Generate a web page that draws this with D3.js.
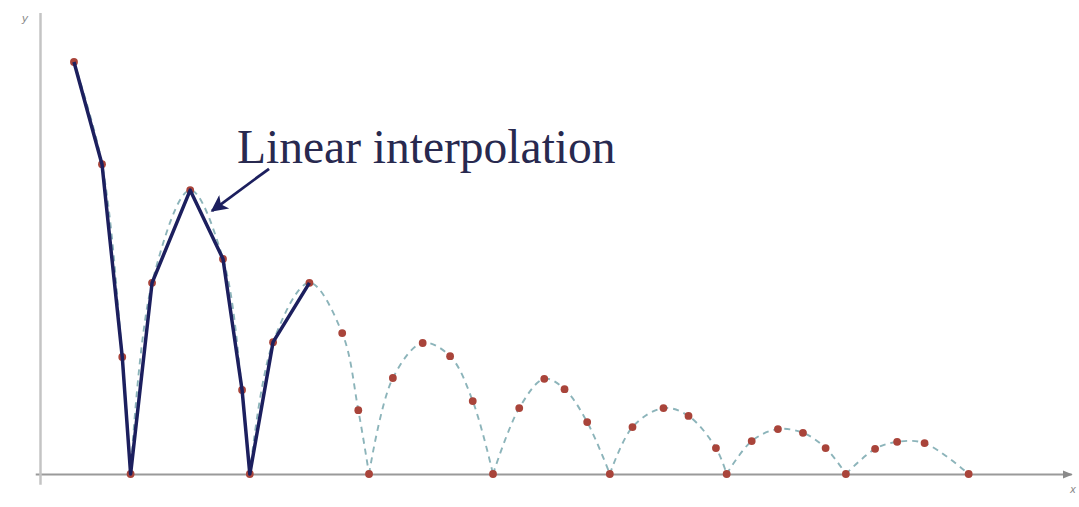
<!DOCTYPE html>
<html>
<head>
<meta charset="utf-8">
<script src="https://cdn.jsdelivr.net/npm/d3@7"></script>
<style>
  html, body { margin: 0; padding: 0; background: #fff; }
  svg { display: block; }
</style>
</head>
<body>
<svg id="chart" width="1079" height="507"></svg>
<script>
// Samples of a decaying |sin|-like signal (x in periods, y normalised to first sample)
const sampleX = [0.525, 0.76, 0.93, 1.0, 1.18, 1.50, 1.775, 1.935, 2.0, 2.195, 2.5, 2.775, 2.91, 3.0,
                 3.2, 3.45, 3.68, 3.87, 4.04, 4.26, 4.47, 4.64, 4.83, 5.02, 5.21, 5.47, 5.68, 5.91, 6.0,
                 6.21, 6.43, 6.64, 6.83, 7.0, 7.245, 7.43, 7.66, 8.03];
const sampleY = [1.0, 0.752, 0.284, 0, 0.464, 0.689, 0.522, 0.204, 0, 0.320, 0.464, 0.342, 0.155, 0,
                 0.233, 0.318, 0.286, 0.177, 0, 0.160, 0.231, 0.206, 0.126, 0, 0.114, 0.160, 0.141, 0.063, 0,
                 0.080, 0.109, 0.100, 0.063, 0, 0.061, 0.078, 0.075, 0];
// Number of leading samples joined by straight segments
const interpolatedCount = 11;
const annotationText = "Linear interpolation";
const axisLabels = ["x", "y"];

const svg = d3.select("#chart");
const W = 1079, H = 507;

const x = d3.scaleLinear().domain([0.24, 8.88]).range([40, 1070]);
const y = d3.scaleLinear().domain([0, 1]).range([474, 62]);

const points = sampleX.map((v, i) => ({ x: v, y: sampleY[i] }));

// Markers
const defs = svg.append("defs");
defs.append("marker")
  .attr("id", "axisArrow").attr("viewBox", "0 0 10 10")
  .attr("refX", 9).attr("refY", 5)
  .attr("markerWidth", 5).attr("markerHeight", 5)
  .attr("markerUnits", "strokeWidth").attr("orient", "auto")
  .append("path").attr("d", "M0,1 L10,5 L0,9 Z").attr("fill", "#8a8a8a");
defs.append("marker")
  .attr("id", "noteArrow").attr("viewBox", "0 0 10 10")
  .attr("refX", 9).attr("refY", 5)
  .attr("markerWidth", 7).attr("markerHeight", 6)
  .attr("markerUnits", "strokeWidth").attr("orient", "auto")
  .append("path").attr("d", "M0,0 L10,5 L0,10 L2.5,5 Z").attr("fill", "#1c1f5e");

// Axes
const xAxisScale = d3.scaleLinear().domain([0.2, 8.89]).range([x(0.2), x(8.89)]);
const gx = svg.append("g")
  .attr("transform", `translate(0,${y(0)})`)
  .call(d3.axisBottom(xAxisScale).tickValues([]).tickSizeOuter(0));
gx.select(".domain").attr("stroke", "#9a9a9a").attr("stroke-width", 2)
  .attr("marker-end", "url(#axisArrow)");

const yAxisScale = d3.scaleLinear().domain([-0.025, 1.12]).range([y(-0.025), y(1.12)]);
const gy = svg.append("g")
  .attr("transform", `translate(${x(0.24)},0)`)
  .call(d3.axisLeft(yAxisScale).tickValues([]).tickSizeOuter(0));
gy.select(".domain").attr("stroke", "#c4c4c4").attr("stroke-width", 2.5);

svg.append("text").attr("x", W - 6).attr("y", H - 14)
  .attr("font-family", "DejaVu Sans").attr("font-size", 10).attr("fill", "#888")
  .attr("font-style", "italic").attr("text-anchor", "middle").text(axisLabels[0]);
svg.append("text").attr("x", 25).attr("y", 22)
  .attr("font-family", "DejaVu Sans").attr("font-size", 11).attr("fill", "#888")
  .attr("font-style", "italic").attr("text-anchor", "middle").text(axisLabels[1]);

// Underlying smooth signal, drawn arch by arch (cusps at the zeros)
const arches = [];
let current = [];
points.forEach((p, i) => {
  current.push(p);
  if (p.y === 0 && current.length > 1) {
    arches.push(current);
    current = [p];
  }
});
if (current.length > 1) arches.push(current);

const smooth = d3.line().x(d => x(d.x)).y(d => y(d.y)).curve(d3.curveCatmullRom.alpha(0.5));
svg.append("g").selectAll("path").data(arches).join("path")
  .attr("d", smooth)
  .attr("fill", "none")
  .attr("stroke", "#8cb4ba")
  .attr("stroke-width", 1.9)
  .attr("stroke-dasharray", "6,5");

// Sample dots
svg.append("g").selectAll("circle").data(points).join("circle")
  .attr("cx", d => x(d.x)).attr("cy", d => y(d.y)).attr("r", 3.9)
  .attr("fill", "#a9443a");

// Linear interpolation through the first samples
const linear = d3.line().x(d => x(d.x)).y(d => y(d.y));
svg.append("path")
  .datum(points.slice(0, interpolatedCount))
  .attr("d", linear)
  .attr("fill", "none")
  .attr("stroke", "#1c1f5e")
  .attr("stroke-width", 3.5)
  .attr("stroke-linejoin", "round");

// Annotation pointing at the segment after the peak
const a = points[5], b = points[6];
const t = 0.3;
const tipX = x(a.x + (b.x - a.x) * t) + 12;
const tipY = y(a.y + (b.y - a.y) * t);
svg.append("line")
  .attr("x1", tipX + 57).attr("y1", tipY - 42)
  .attr("x2", tipX).attr("y2", tipY)
  .attr("stroke", "#1c1f5e").attr("stroke-width", 2.8)
  .attr("marker-end", "url(#noteArrow)");
svg.append("text")
  .attr("x", 237).attr("y", 163)
  .attr("font-family", "Liberation Serif, Times New Roman, serif")
  .attr("font-size", 47.5)
  .attr("fill", "#28294f")
  .text(annotationText);
</script>
</body>
</html>
